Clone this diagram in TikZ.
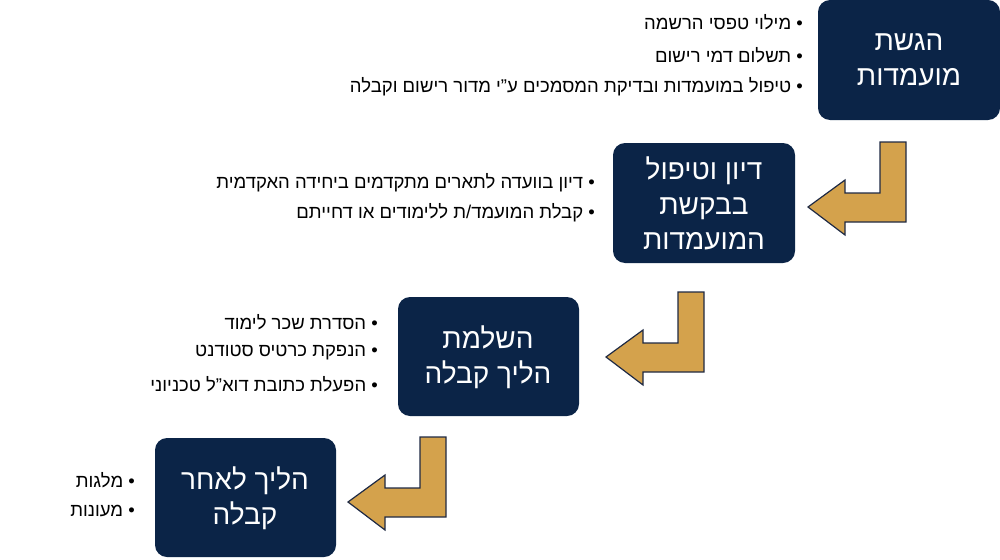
\documentclass[tikz,border=0pt]{standalone}
\usepackage{fontspec}
\setmainfont[Script=Hebrew]{Liberation Sans}
\TeXXeTstate=1
\definecolor{navy}{HTML}{0B2447}
\definecolor{gold}{HTML}{D4A24C}
\definecolor{edge}{HTML}{1F2A44}
\newcommand{\dq}{\char"22\relax}
\begin{document}
\begin{tikzpicture}[x=1pt,y=-1pt,
  stagebox/.style={fill=navy,rounded corners=12pt,text=white,font=\fontsize{28}{35}\selectfont,align=center},
  bul/.style={anchor=east,font=\fontsize{18.5}{20}\selectfont,inner sep=0pt},
  arr/.style={fill=gold,draw=edge,line width=1.2pt,line join=miter}]
\useasboundingbox (0,0) rectangle (1000,559);
\path[stagebox] (818,0) rectangle (1000,120);
\node[stagebox,fill=none] (b1) at (909,60) {\beginR הגשת\endR\\\beginR מועמדות\endR};
\path[stagebox] (613,143) rectangle (795,263);
\node[stagebox,fill=none] (b2) at (704,203) {\beginR דיון וטיפול\endR\\\beginR בבקשת\endR\\\beginR המועמדות\endR};
\path[stagebox] (398,297) rectangle (579,416);
\node[stagebox,fill=none] (b3) at (488,357) {\beginR השלמת\endR\\\beginR הליך קבלה\endR};
\path[stagebox] (155,438) rectangle (336,557);
\node[stagebox,fill=none] (b4) at (245,498) {\beginR הליך לאחר\endR\\\beginR קבלה\endR};
\foreach \dx/\dy in {0/0,-202/150,-460/295}{
 \draw[arr,shift={(\dx,\dy)}] (880,142)--(906,142)--(906,222)--(845,222)--(845,235)--(808,207)--(845,180)--(845,193)--(880,193)--cycle;}
\node[bul] (t11) at (803,22) {\beginR • מילוי טפסי הרשמה\endR};
\node[bul] (t12) at (803,55) {\beginR • תשלום דמי רישום\endR};
\node[bul] (t13) at (803,87) {\beginR • טיפול במועמדות ובדיקת המסמכים ע\dq י מדור רישום וקבלה\endR};
\node[bul] (t21) at (595,183) {\beginR • דיון בוועדה לתארים מתקדמים ביחידה האקדמית\endR};
\node[bul] (t22) at (595,213) {\beginR • קבלת המועמד/ת ללימודים או דחייתם\endR};
\node[bul] (t31) at (378,322) {\beginR • הסדרת שכר לימוד\endR};
\node[bul] (t32) at (378,353) {\beginR • הנפקת כרטיס סטודנט\endR};
\node[bul] (t33) at (378,384) {\beginR • הפעלת כתובת דוא\dq ל טכניוני\endR};
\node[bul] (t41) at (135,480) {\beginR • מלגות\endR};
\node[bul] (t42) at (135,511) {\beginR • מעונות\endR};
\end{tikzpicture}
\end{document}
